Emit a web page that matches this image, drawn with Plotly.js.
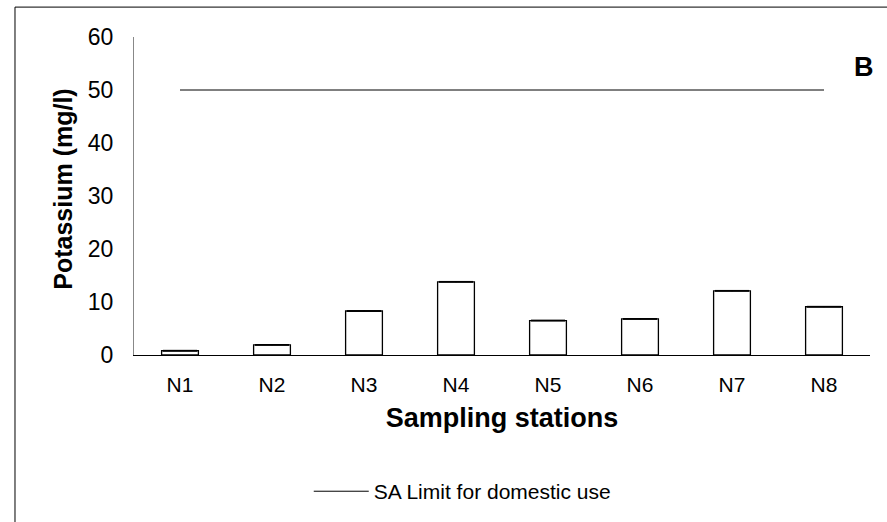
<!DOCTYPE html>
<html>
<head>
<meta charset="utf-8">
<script src="https://cdn.plot.ly/plotly-3.0.1.min.js"></script>
<style>html,body{margin:0;padding:0;background:#fff;}#chart{width:887px;height:522px;}</style>
</head>
<body>
<div id="chart"></div>
<script>
const stations = ["N1","N2","N3","N4","N5","N6","N7","N8"];
const potassium = [0.8, 1.9, 8.3, 13.8, 6.5, 6.8, 12.1, 9.1];
const potassiumErr = [0.08, 0.08, 0.08, 0.08, 0.08, 0.08, 0.08, 0.08];
const saLimit = [50, 50, 50, 50, 50, 50, 50, 50];
const limitName = "SA Limit for domestic use";
const yTicks = [0, 10, 20, 30, 40, 50, 60];

const data = [
  {
    type: "bar",
    x: stations,
    y: potassium,
    width: 0.4,
    marker: {color: "#ffffff", line: {color: "#000000", width: 1.3}},
    error_y: {type: "data", array: potassiumErr, visible: true, color: "#000000", thickness: 1, width: 17},
    showlegend: false,
    hoverinfo: "x+y"
  },
  {
    type: "scatter",
    mode: "lines",
    x: stations,
    y: saLimit,
    name: limitName,
    line: {color: "#000000", width: 1}
  }
];

const layout = {
  width: 887,
  height: 522,
  margin: {l: 134, r: 17, t: 37, b: 166},
  paper_bgcolor: "#ffffff",
  plot_bgcolor: "#ffffff",
  font: {family: "Liberation Sans, Arial, sans-serif", color: "#000000"},
  showlegend: true,
  legend: {
    orientation: "h",
    x: 0.446, y: -0.425, xanchor: "center", yanchor: "middle",
    font: {size: 21, color: "#000000"},
    itemwidth: 55,
    bgcolor: "rgba(0,0,0,0)"
  },
  xaxis: {
    type: "category",
    range: [-0.5, 7.5],
    showline: true, linecolor: "#000000", linewidth: 1,
    ticks: "", showgrid: false, zeroline: false,
    tickfont: {size: 21},
    ticklabelstandoff: 11,
    title: {text: "<b>Sampling stations</b>", font: {size: 27}, standoff: 12}
  },
  yaxis: {
    range: [0, 60],
    tickvals: yTicks,
    showline: true, linecolor: "#888888", linewidth: 1,
    ticks: "", showgrid: false, zeroline: false,
    tickfont: {size: 23},
    ticklabelstandoff: 15,
    title: {text: "&nbsp;&nbsp;<b>Potassium (mg/l)</b>", font: {size: 25}, standoff: 8}
  },
  shapes: [
    {type: "rect", xref: "paper", yref: "paper", x0: -0.1617, x1: 1.06, y0: -0.7, y1: 1.094,
     line: {color: "#000000", width: 1}, fillcolor: "rgba(0,0,0,0)", layer: "below"}
  ],
  annotations: [
    {text: "<b>B</b>", xref: "paper", yref: "paper", x: 0.992, y: 0.907, xanchor: "center", yanchor: "middle",
     showarrow: false, font: {size: 27, color: "#000000"}}
  ]
};

Plotly.newPlot("chart", data, layout, {displayModeBar: false, staticPlot: true});
</script>
</body>
</html>
